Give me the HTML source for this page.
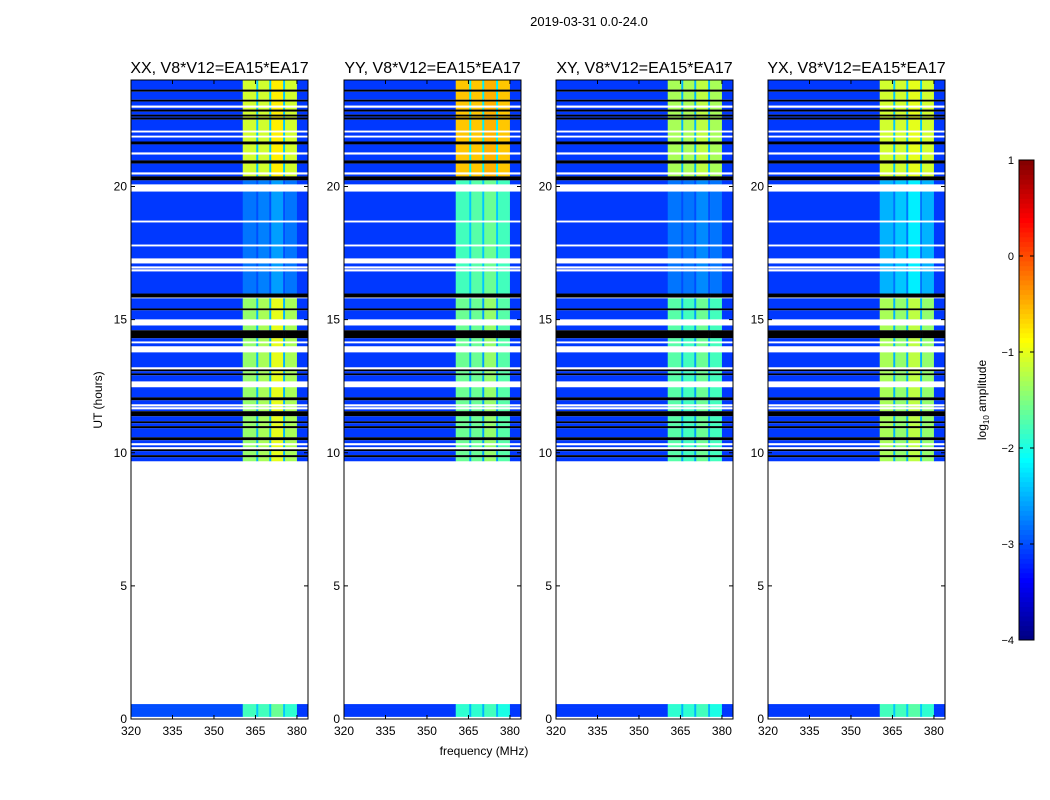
<!DOCTYPE html>
<html><head><meta charset="utf-8">
<style>
body{margin:0;background:#fff;}
svg{display:block;font-family:"Liberation Sans","DejaVu Sans",sans-serif;}
</style></head>
<body>
<svg id="fig" width="1050" height="800" viewBox="0 0 1050 800">
<rect width="1050" height="800" fill="#fff"/>
<text x="589" y="26" font-size="13" text-anchor="middle">2019-03-31 0.0-24.0</text>
<text x="484" y="755" font-size="12" text-anchor="middle">frequency (MHz)</text>
<text transform="translate(102,400) rotate(-90)" font-size="12" text-anchor="middle">UT (hours)</text>
<g id="panels"></g>
<g id="cbar"></g>
</svg>
<script>
// ---- data ----
const panelTitles = ["XX, V8*V12=EA15*EA17","YY, V8*V12=EA15*EA17","XY, V8*V12=EA15*EA17","YX, V8*V12=EA15*EA17"];
const freqEdges = [320,360.4,365.3,366.0,370.0,370.7,375.0,375.7,380.0,384];
const xTicks = [320,335,350,365,380];
const yTicks = [0,5,10,15,20];
const cbarTicks = [1,0,-1,-2,-3,-4];
// time rows: [top hour, bottom hour, state]; missing data = white (not listed)
const rowTop = [24.0,23.64,23.56,23.26,23.19,22.96,22.89,22.81,22.70,22.63,22.59,22.51,22.03,21.84,21.69,21.58,21.20,20.98,20.86,20.45,20.38,20.30,20.23,19.81,18.65,17.75,17.11,16.92,16.81,15.98,15.80,15.42,15.35,14.78,14.60,14.30,14.11,13.77,13.13,13.06,12.98,12.91,12.46,12.08,11.97,11.74,11.63,11.56,11.37,11.18,11.11,11.00,10.92,10.58,10.47,10.28,10.13,10.06,9.91,9.83,0.56,0.45];
const rowBot = [23.64,23.56,23.26,23.19,23.04,22.89,22.81,22.70,22.63,22.59,22.51,22.10,21.91,21.69,21.58,21.28,20.98,20.86,20.53,20.38,20.30,20.23,20.08,18.72,17.82,17.30,17.00,16.89,15.98,15.83,15.42,15.35,15.01,14.60,14.30,14.18,14.00,13.21,13.06,12.98,12.91,12.68,12.08,11.97,11.82,11.71,11.56,11.37,11.18,11.11,11.00,10.92,10.58,10.47,10.36,10.21,10.06,9.91,9.83,9.68,0.45,0.08];
const rowState = ["A","K","A","K","A","A","K","A","K","A","K","A","A","A","K","A","A","K","A","A","K","K","F","F","F","F","F","F","F","K","B","K","B","B","K","B","B","B","K","B","K","B","B","K","B","B","B","K","B","K","B","K","B","K","B","B","K","B","K","B","L","L"];
// per-panel log10 amplitude per frequency band (background, band1, sep, band2, sep, band3, sep, band4, background)
const levelsA = [[-3.1,-1.1,-2.4,-1.1,-2.4,-0.8,-2.4,-1.1,-3.1],[-3.1,-0.6,-2.2,-0.6,-2.2,-0.5,-2.2,-0.6,-3.1],[-3.1,-1.3,-2.5,-1.3,-2.5,-1.2,-2.5,-1.3,-3.1],[-3.1,-1.1,-2.4,-1.1,-2.4,-1.0,-2.4,-1.1,-3.1]];
const levelsF = [[-3.1,-2.8,-3.0,-2.75,-3.0,-2.6,-3.0,-2.8,-3.1],[-3.1,-1.8,-2.4,-1.7,-2.4,-1.6,-2.4,-1.8,-3.1],[-3.1,-2.8,-3.0,-2.8,-3.0,-2.7,-3.0,-2.8,-3.1],[-3.1,-2.5,-2.8,-2.4,-2.8,-2.2,-2.8,-2.5,-3.1]];
const levelsB = [[-3.1,-1.4,-2.5,-1.3,-2.5,-1.0,-2.5,-1.3,-3.1],[-3.1,-1.6,-2.6,-1.6,-2.6,-1.4,-2.6,-1.7,-3.1],[-3.1,-1.7,-2.6,-1.8,-2.6,-1.6,-2.6,-1.8,-3.1],[-3.1,-1.3,-2.5,-1.4,-2.5,-1.2,-2.5,-1.4,-3.1]];
const levelsL = [[-3.0,-1.8,-2.4,-1.8,-2.4,-1.6,-2.4,-1.9,-3.1],[-3.1,-1.9,-2.5,-1.9,-2.5,-1.8,-2.5,-2.0,-3.1],[-3.1,-1.9,-2.5,-1.9,-2.5,-1.8,-2.5,-2.0,-3.1],[-3.1,-1.8,-2.4,-1.8,-2.4,-1.7,-2.4,-1.9,-3.1]];

// ---- layout ----
const panelX = [131,344,556,768], panelW = 177, plotTop = 80, plotBot = 719;
const NS = "http://www.w3.org/2000/svg";
function xScale(p,f){return panelX[p] + (f-320)/(384-320)*panelW;}
function yScale(h){return plotBot - h/24*(plotBot-plotTop);}
function jet(v){
  const t=Math.max(0,Math.min(1,(v+4)/5)), c=x=>Math.round(255*Math.max(0,Math.min(1,x)));
  return `rgb(${c(1.5-Math.abs(4*t-3))},${c(1.5-Math.abs(4*t-2))},${c(1.5-Math.abs(4*t-1))})`;
}
function mk(tag,attrs,parent){const e=document.createElementNS(NS,tag);for(const k in attrs)e.setAttribute(k,attrs[k]);parent.appendChild(e);return e;}
const panels=document.getElementById("panels");
for(let p=0;p<4;p++){
  const g=mk("g",{},panels);
  
  
  for(let r=0;r<rowTop.length;r++){
    const y1=yScale(rowTop[r]), y2=yScale(rowBot[r]), st=rowState[r];
    const lv = st==="A"?levelsA[p]:st==="F"?levelsF[p]:st==="B"?levelsB[p]:levelsL[p];
    for(let b=0;b<freqEdges.length-1;b++){
      const x1=xScale(p,freqEdges[b]), x2=xScale(p,freqEdges[b+1]);
      const c = st==="K" ? "#000" : jet(lv[b]);
      const rc=mk("rect",{x:x1.toFixed(2),y:y1.toFixed(2),width:(x2-x1+0.3).toFixed(2),height:(y2-y1).toFixed(2),fill:c},g);
      
      
    }
  }
  const fr=mk("rect",{x:panelX[p],y:plotTop,width:panelW,height:plotBot-plotTop,fill:"none",stroke:"#000","stroke-width":1},g);
  
  
  const tt=mk("text",{x:panelX[p]+panelW/2,y:73,"font-size":16,"text-anchor":"middle"},g);
  tt.textContent=panelTitles[p];
  
  
  for(const f of xTicks){
    const x=xScale(p,f);
    mk("line",{x1:x,y1:plotBot,x2:x,y2:plotBot-4,stroke:"#000"},g);
    mk("line",{x1:x,y1:plotTop,x2:x,y2:plotTop+4,stroke:"#000"},g);
    const t=mk("text",{x:x,y:plotBot+16,"font-size":12,"text-anchor":"middle"},g);
    t.textContent=f;
    
    
  }
  for(const h of yTicks){
    const y=yScale(h);
    mk("line",{x1:panelX[p],y1:y,x2:panelX[p]+4,y2:y,stroke:"#000"},g);
    mk("line",{x1:panelX[p]+panelW,y1:y,x2:panelX[p]+panelW-4,y2:y,stroke:"#000"},g);
    const t=mk("text",{x:panelX[p]-4,y:y+4,"font-size":12,"text-anchor":"end"},g);
    t.textContent=h;
    
    
  }
}
// colorbar
const cb=document.getElementById("cbar");


const cbX=1019,cbW=15,cbT=160,cbB=640;
const cbY=v=>cbB-(v+4)/5*(cbB-cbT);
for(let i=0;i<100;i++){
  const v0=-4+i*0.05;
  mk("rect",{x:cbX,y:cbY(v0+0.05),width:cbW,height:(cbB-cbT)/100+0.5,fill:jet(v0+0.025)},cb);
}
mk("rect",{x:cbX,y:cbT,width:cbW,height:cbB-cbT,fill:"none",stroke:"#000"},cb);
for(const v of cbarTicks){
  const y=cbY(v);
  mk("line",{x1:cbX,y1:y,x2:cbX+4,y2:y,stroke:"#000"},cb);
  mk("line",{x1:cbX+cbW,y1:y,x2:cbX+cbW-4,y2:y,stroke:"#000"},cb);
  const t=mk("text",{x:cbX-5,y:y+4,"font-size":11,"text-anchor":"end"},cb);
  t.textContent=v<0?"\u2212"+(-v):v;
  
  
}
const cl=mk("text",{transform:"translate(986,400) rotate(-90)","font-size":12,"text-anchor":"middle"},cb);
cl.innerHTML='log<tspan font-size="8" dy="3">10</tspan><tspan dy="-3"> amplitude</tspan>';


</script>
</body></html>
